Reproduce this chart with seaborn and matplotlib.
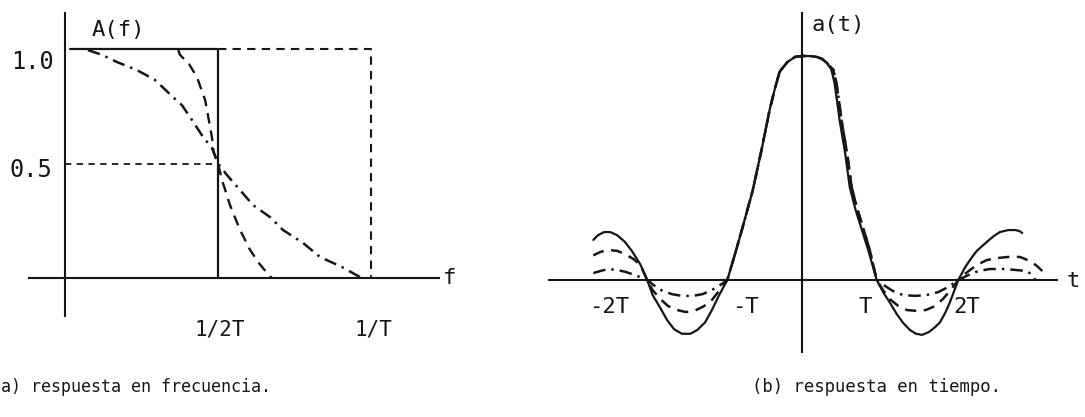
import matplotlib
matplotlib.use("Agg")
import matplotlib.pyplot as plt
import seaborn as sns

sns.set_style("white")
plt.rcParams["font.family"] = ["DejaVu Sans Mono", "DejaVu Sans"]

INK = "#161616"

# ---------------- (a) frequency response, f in units of 1/T ----------------
ideal_f = [0.016, 0.5, 0.5]
ideal_a = [1.0, 1.0, 0.0]

box_f = [0.5, 1.0, 1.0]
box_a = [1.0, 1.0, 0.0]

half_f = [0.0, 0.5]
half_a = [0.5, 0.5]

low_roll_f = [0.37, 0.376, 0.405, 0.431, 0.458, 0.467, 0.480, 0.486, 0.5,
              0.513, 0.539, 0.572, 0.605, 0.635, 0.660, 0.676]
low_roll_a = [0.995, 0.974, 0.935, 0.878, 0.777, 0.712, 0.616, 0.550, 0.5,
              0.428, 0.319, 0.210, 0.122, 0.063, 0.022, 0.0]

full_roll_f = [0.075, 0.120, 0.170, 0.235, 0.294, 0.353, 0.382, 0.415, 0.451,
               0.480, 0.5, 0.529, 0.572, 0.614, 0.670, 0.712, 0.778, 0.833,
               0.905, 0.964]
full_roll_a = [0.995, 0.975, 0.943, 0.908, 0.865, 0.790, 0.755, 0.690, 0.616,
               0.568, 0.5, 0.450, 0.384, 0.319, 0.266, 0.210, 0.153, 0.092,
               0.048, 0.004]

freq_ticks = [0.5, 1.0]
freq_tick_labels = ["1/2T", "1/T"]
amp_ticks = [1.0, 0.5]
amp_tick_labels = ["1.0", "0.5"]

# ---------------- (b) time response, t in units of T ----------------
ideal_t = [-2.71, -2.65, -2.57, -2.49, -2.40, -2.30, -2.21, -2.10, -2.01,
           -1.94, -1.84, -1.75, -1.66, -1.56, -1.45, -1.36, -1.26, -1.17,
           -1.08, -0.97, -0.87, -0.77, -0.64, -0.52, -0.42, -0.35, -0.29,
           -0.19, -0.09, 0.0, 0.10, 0.19, 0.26, 0.32, 0.38, 0.42, 0.455,
           0.49, 0.56, 0.62, 0.69, 0.75, 0.86, 0.97,
           1.06, 1.14, 1.23, 1.31, 1.40, 1.48, 1.56, 1.65, 1.73, 1.79, 1.86,
           1.92, 2.03, 2.12, 2.21, 2.27, 2.40, 2.49, 2.57, 2.68, 2.77, 2.82,
           2.86]
ideal_v = [0.179, 0.20, 0.214, 0.214, 0.20, 0.17, 0.13, 0.07, 0.0,
           -0.067, -0.125, -0.18, -0.22, -0.24, -0.24, -0.223, -0.19, -0.134,
           -0.07, 0.0, 0.116, 0.237, 0.40, 0.59, 0.76, 0.857, 0.93,
           0.973, 0.996, 1.0, 1.0, 0.996, 0.987, 0.97, 0.94, 0.884, 0.80,
           0.71, 0.567, 0.415, 0.32, 0.254, 0.134, 0.0,
           -0.058, -0.10, -0.152, -0.19, -0.223, -0.24, -0.245, -0.232, -0.21,
           -0.19, -0.147, -0.10, 0.0, 0.058, 0.103, 0.13, 0.17, 0.196, 0.214,
           0.223, 0.223, 0.219, 0.21]

mid_t = [-2.71, -2.62, -2.52, -2.40, -2.30, -2.19, -2.10, -2.01,
         -1.94, -1.84, -1.74, -1.62, -1.51, -1.40, -1.29, -1.19, -1.09, -0.97,
         -0.87, -0.77, -0.64, -0.52, -0.42, -0.35, -0.29, -0.19, -0.09, 0.0,
         0.10, 0.19, 0.26, 0.32, 0.405, 0.445, 0.48, 0.515, 0.585, 0.645,
         0.715, 0.775, 0.88, 0.97,
         1.06, 1.14, 1.25, 1.36, 1.49, 1.61, 1.73, 1.83, 1.92, 2.03,
         2.13, 2.27, 2.40, 2.53, 2.68, 2.83, 2.96, 3.05, 3.12]
mid_v = [0.11, 0.125, 0.134, 0.13, 0.116, 0.094, 0.067, 0.0,
         -0.045, -0.085, -0.116, -0.134, -0.143, -0.138, -0.12, -0.098, -0.054,
         0.0,
         0.116, 0.237, 0.40, 0.59, 0.76, 0.857, 0.93, 0.973, 0.996, 1.0,
         1.0, 0.996, 0.987, 0.97, 0.94, 0.884, 0.80, 0.71, 0.567, 0.415,
         0.32, 0.254, 0.134, 0.0,
         -0.049, -0.085, -0.116, -0.134, -0.138, -0.134, -0.116, -0.085,
         -0.049, 0.0,
         0.031, 0.067, 0.089, 0.098, 0.103, 0.103, 0.085, 0.063, 0.04]

wide_t = [-2.71, -2.62, -2.52, -2.40, -2.29, -2.17, -2.01,
          -1.91, -1.81, -1.69, -1.56, -1.42, -1.29, -1.17, -1.06, -0.97,
          -0.87, -0.77, -0.64, -0.52, -0.42, -0.35, -0.29, -0.19, -0.09, 0.0,
          0.10, 0.19, 0.26, 0.32, 0.405, 0.445, 0.48, 0.515, 0.585, 0.645,
          0.715, 0.775, 0.88, 0.97,
          1.08, 1.18, 1.31, 1.47, 1.62, 1.77, 1.90, 2.03,
          2.16, 2.29, 2.44, 2.61, 2.77, 2.92, 2.99, 3.03]
wide_v = [0.031, 0.04, 0.049, 0.045, 0.036, 0.022, 0.0,
          -0.027, -0.049, -0.063, -0.071, -0.071, -0.063, -0.045, -0.022, 0.0,
          0.116, 0.237, 0.40, 0.59, 0.76, 0.857, 0.93, 0.973, 0.996, 1.0,
          1.0, 0.996, 0.987, 0.97, 0.94, 0.884, 0.80, 0.71, 0.567, 0.415,
          0.32, 0.254, 0.134, 0.0,
          -0.027, -0.049, -0.067, -0.071, -0.067, -0.054, -0.031, 0.0,
          0.022, 0.04, 0.049, 0.049, 0.045, 0.04, 0.022, 0.0]

time_ticks = [-2.506, -0.74, 0.818, 2.143]
time_tick_labels = ["-2T", "-T", "T", "2T"]

DASH = (0, (4.5, 3.0))
DASHDOT = (0, (5.0, 2.4, 1.0, 2.4))

W, H = 1085, 417
fig = plt.figure(figsize=(W / 100, H / 100), dpi=100)
fig.patch.set_facecolor("white")

ax_f = fig.add_axes([0, 0, 470 / W, 1])
ax_t = fig.add_axes([470 / W, 0, 615 / W, 1])
for ax in (ax_f, ax_t):
    ax.set_axis_off()

# ---- frequency panel ----
ax_f.set_xlim(-65 / 306, 405 / 306)
ax_f.set_ylim(-139 / 229, 278 / 229)

ax_f.plot([-0.121, 1.225], [0, 0], color=INK, lw=1.5, solid_capstyle="butt")
ax_f.plot([0, 0], [-0.170, 1.162], color=INK, lw=1.5, solid_capstyle="butt")

sns.lineplot(x=half_f, y=half_a, ax=ax_f, color=INK, lw=1.3,
             linestyle=(0, (3.5, 3.0)), sort=False, estimator=None)
sns.lineplot(x=box_f, y=box_a, ax=ax_f, color=INK, lw=1.5,
             linestyle=(0, (4.0, 3.0)), sort=False, estimator=None)
sns.lineplot(x=full_roll_f, y=full_roll_a, ax=ax_f, color=INK, lw=1.8,
             linestyle=DASHDOT, sort=False, estimator=None)
sns.lineplot(x=low_roll_f, y=low_roll_a, ax=ax_f, color=INK, lw=1.7,
             linestyle=DASH, sort=False, estimator=None)
sns.lineplot(x=ideal_f, y=ideal_a, ax=ax_f, color=INK, lw=1.6,
             sort=False, estimator=None)

ax_f.text(0.173, 1.083, "A(f)", fontsize=16, color=INK, ha="center", va="center")
ax_f.text(1.258, 0.0, "f", fontsize=16, color=INK, ha="center", va="center")
ax_f.text(-0.105, 0.943, amp_tick_labels[0], fontsize=17, color=INK,
          ha="center", va="center")
ax_f.text(-0.111, 0.472, amp_tick_labels[1], fontsize=17, color=INK,
          ha="center", va="center")
for xv, lab in zip(freq_ticks, freq_tick_labels):
    ax_f.text(xv + 0.007, -0.227, lab, fontsize=15, color=INK,
              ha="center", va="center")

# ---- time panel ----
ax_t.set_xlim((470 - 802) / 77, (1085 - 802) / 77)
ax_t.set_ylim((280 - 417) / 224, 280 / 224)

ax_t.plot([-3.30, 3.32], [0, 0], color=INK, lw=1.5, solid_capstyle="butt")
ax_t.plot([0, 0], [-0.326, 1.196], color=INK, lw=1.5, solid_capstyle="butt")

sns.lineplot(x=wide_t, y=wide_v, ax=ax_t, color=INK, lw=1.8,
             linestyle=DASHDOT, sort=False, estimator=None)
sns.lineplot(x=mid_t, y=mid_v, ax=ax_t, color=INK, lw=1.8,
             linestyle=DASH, sort=False, estimator=None)
sns.lineplot(x=ideal_t, y=ideal_v, ax=ax_t, color=INK, lw=1.6,
             sort=False, estimator=None)

ax_t.text(0.117, 1.138, "a(t)", fontsize=16, color=INK, ha="left", va="center")
ax_t.text(3.52, -0.004, "t", fontsize=16, color=INK, ha="center", va="center")
for xv, lab in zip(time_ticks, time_tick_labels):
    ax_t.text(xv, -0.1205, lab, fontsize=16, color=INK,
              ha="center", va="center")

# ---- captions ----
fig.text(1 / W, 1 - 387 / H, "a) respuesta en frecuencia.", fontsize=12,
         color=INK, ha="left", va="center")
fig.text(752 / W, 1 - 387 / H, "(b) respuesta en tiempo.", fontsize=12.4,
         color=INK, ha="left", va="center")

fig.savefig("out.png", dpi=100, facecolor="white")
